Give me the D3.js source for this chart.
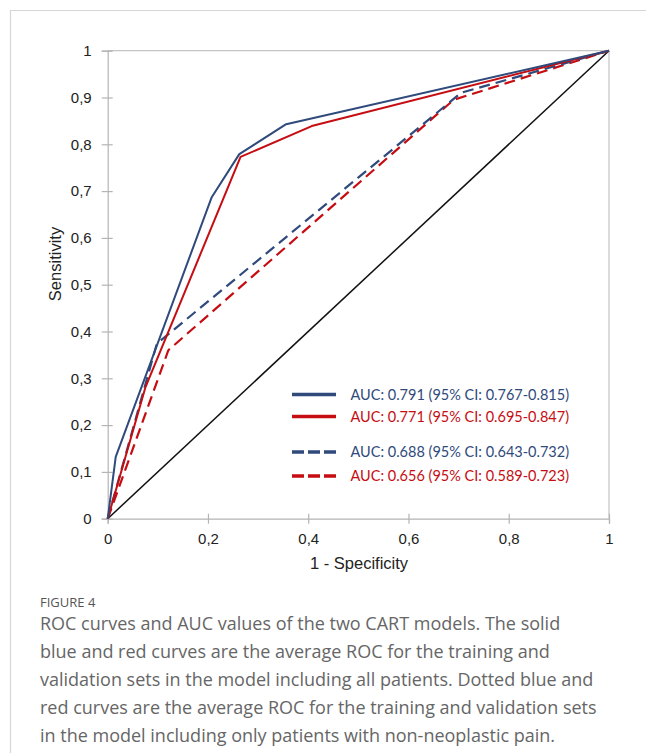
<!DOCTYPE html>
<html lang="en">
<head>
<meta charset="UTF-8">
<title>ROC curves</title>
<script src="https://d3js.org/d3.v7.min.js"></script>
<style>
    body { margin: 0; background: #fff; }
    .axis path, .axis line { stroke: #b4b4b4; stroke-width: 1.2px; }
    .axis text { font-family: "Liberation Sans", Arial, sans-serif; font-size: 15px; fill: #222; }
</style>
</head>
<body>
<div id="chart"></div>
<script>
    // tick values
    var xTicks = [0, 0.2, 0.4, 0.6, 0.8, 1];
    var yTicks = [0, 0.1, 0.2, 0.3, 0.4, 0.5, 0.6, 0.7, 0.8, 0.9, 1];

    // ROC curves (x = 1 - specificity, y = sensitivity)
    var allTrainX = [0, 0.016, 0.2075, 0.2625, 0.356, 1];
    var allTrainY = [0, 0.132, 0.687, 0.779, 0.843, 1];
    var allValidX = [0, 0.075, 0.265, 0.407, 1];
    var allValidY = [0, 0.28, 0.773, 0.839, 1];
    var nonNeoTrainX = [0, 0.098, 0.705, 1];
    var nonNeoTrainY = [0, 0.374, 0.91, 1];
    var nonNeoValidX = [0, 0.121, 0.69, 1];
    var nonNeoValidY = [0, 0.36, 0.895, 1];
    var chanceX = [0, 1];
    var chanceY = [0, 1];

    var legendLabels = [
        "AUC: 0.791 (95% CI: 0.767-0.815)",
        "AUC: 0.771 (95% CI: 0.695-0.847)",
        "AUC: 0.688 (95% CI: 0.643-0.732)",
        "AUC: 0.656 (95% CI: 0.589-0.723)"
    ];

    var captionTitle = "FIGURE 4";
    var captionLines = [
        "ROC curves and AUC values of the two CART models. The solid",
        "blue and red curves are the average ROC for the training and",
        "validation sets in the model including all patients. Dotted blue and",
        "red curves are the average ROC for the training and validation sets",
        "in the model including only patients with non-neoplastic pain."
    ];

    var blue = "#2f4a7b", red = "#c50d12";

    var W = 646, H = 753;
    var svg = d3.select("#chart").append("svg")
        .attr("width", W).attr("height", H);

    // outer figure frame
    svg.append("path")
        .attr("d", "M10.5," + H + "V10.5H" + W)
        .attr("fill", "none").attr("stroke", "#d6d6d6").attr("stroke-width", 1.2);

    var plotL = 107.7, plotR = 609, plotT = 50.7, plotB = 518.7;
    var x = d3.scaleLinear().domain([0, 1]).range([plotL, plotR]);
    var y = d3.scaleLinear().domain([0, 1]).range([plotB, plotT]);

    var comma = function(d) { return String(+d.toFixed(1)).replace(".", ","); };

    // plot box (top and right edges)
    svg.append("path")
        .attr("d", "M" + x(0) + "," + y(1) + "H" + x(1) + "V" + y(0))
        .attr("fill", "none").attr("stroke", "#c4c4c4").attr("stroke-width", 1.2);

    var gx = svg.append("g").attr("class", "axis")
        .attr("transform", "translate(0," + y(0) + ")")
        .call(d3.axisBottom(x).tickValues(xTicks).tickFormat(comma).tickSizeOuter(0).tickSize(5).tickPadding(10));
    gx.selectAll(".tick line").attr("y1", -5);

    var gy = svg.append("g").attr("class", "axis")
        .attr("transform", "translate(" + x(0) + ",0)")
        .call(d3.axisLeft(y).tickValues(yTicks).tickFormat(comma).tickSizeOuter(0).tickSize(6).tickPadding(10));
    gy.selectAll(".tick line").attr("x1", 5);

    svg.append("text")
        .attr("x", 359).attr("y", 569)
        .attr("text-anchor", "middle")
        .style("font-family", "Liberation Sans, Arial, sans-serif")
        .style("font-size", "16.5px").style("fill", "#222")
        .text("1 - Specificity");

    svg.append("text")
        .attr("transform", "translate(61,264) rotate(-90)")
        .attr("text-anchor", "middle")
        .style("font-family", "Liberation Sans, Arial, sans-serif")
        .style("font-size", "16.5px").style("fill", "#222")
        .text("Sensitivity");

    var line = d3.line()
        .x(function(d) { return x(d[0]); })
        .y(function(d) { return y(d[1]); });

    function pts(xs, ys) { return xs.map(function(v, i) { return [v, ys[i]]; }); }

    var curves = [
        { data: pts(chanceX, chanceY), color: "#111", dash: null, w: 1.5 },
        { data: pts(nonNeoValidX, nonNeoValidY), color: red, dash: "11,6", w: 2.2 },
        { data: pts(nonNeoTrainX, nonNeoTrainY), color: blue, dash: "11,6", w: 2.2 },
        { data: pts(allValidX, allValidY), color: red, dash: null, w: 2 },
        { data: pts(allTrainX, allTrainY), color: blue, dash: null, w: 2 }
    ];

    svg.selectAll(".curve").data(curves).enter().append("path")
        .attr("class", "curve")
        .attr("d", function(d) { return line(d.data); })
        .attr("fill", "none")
        .attr("stroke", function(d) { return d.color; })
        .attr("stroke-width", function(d) { return d.w; })
        .attr("stroke-dasharray", function(d) { return d.dash; })
        .attr("stroke-linejoin", "round");

    // legend
    var legendItems = [
        { label: legendLabels[0], color: blue, dash: null, y: 394.5 },
        { label: legendLabels[1], color: red, dash: null, y: 416.5 },
        { label: legendLabels[2], color: blue, dash: "12,4", y: 452 },
        { label: legendLabels[3], color: red, dash: "12,4", y: 476 }
    ];
    var lg = svg.selectAll(".leg").data(legendItems).enter().append("g").attr("class", "leg");
    lg.append("line")
        .attr("x1", 292).attr("x2", 336)
        .attr("y1", function(d) { return d.y; }).attr("y2", function(d) { return d.y; })
        .attr("stroke", function(d) { return d.color; })
        .attr("stroke-width", 3.3)
        .attr("stroke-dasharray", function(d) { return d.dash; });
    lg.append("text")
        .attr("x", 350.5).attr("y", function(d) { return d.y + 5; })
        .style("font-family", "Lato, sans-serif")
        .style("font-size", "14.5px")
        .style("fill", function(d) { return d.color; })
        .text(function(d) { return d.label; });

    // caption
    svg.append("text")
        .attr("x", 40).attr("y", 607)
        .style("font-family", "Open Sans, sans-serif")
        .style("font-size", "13px").style("fill", "#555")
        .text(captionTitle);

    svg.selectAll(".cap").data(captionLines).enter().append("text")
        .attr("class", "cap")
        .attr("x", 40)
        .attr("y", function(d, i) { return 630 + i * 28; })
        .style("font-family", "Open Sans, sans-serif")
        .style("font-size", "18px").style("fill", "#666")
        .text(function(d) { return d; });
</script>
</body>
</html>
